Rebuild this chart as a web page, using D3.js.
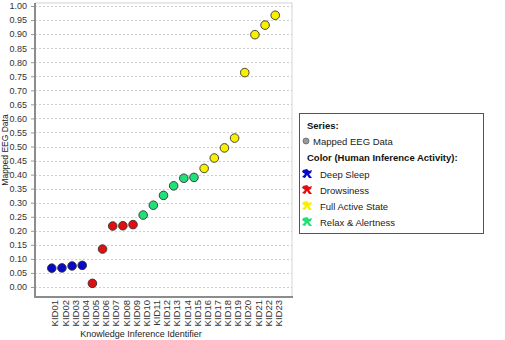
<!DOCTYPE html>
<html>
<head>
<meta charset="utf-8">
<script src="https://cdn.jsdelivr.net/npm/d3@7"></script>
<style>
  body { margin: 0; background: #fff; }
  svg { font-family: "Liberation Sans", Arial, sans-serif; }
</style>
</head>
<body>
<svg id="chart" width="505" height="340"></svg>
<script>
// data
const ids = ['KID01','KID02','KID03','KID04','KID05','KID06','KID07','KID08','KID09','KID10','KID11','KID12',
  'KID13','KID14','KID15','KID16','KID17','KID18','KID19','KID20','KID21','KID22','KID23'];
const eegValues = [0.067,0.068,0.075,0.077,0.013,0.135,0.217,0.218,0.222,0.256,0.291,0.326,
  0.360,0.387,0.390,0.422,0.459,0.495,0.530,0.763,0.898,0.932,0.967];
const activity = ['Deep Sleep','Deep Sleep','Deep Sleep','Deep Sleep','Drowsiness','Drowsiness','Drowsiness',
  'Drowsiness','Drowsiness','Relax & Alertness','Relax & Alertness','Relax & Alertness','Relax & Alertness',
  'Relax & Alertness','Relax & Alertness','Full Active State','Full Active State','Full Active State',
  'Full Active State','Full Active State','Full Active State','Full Active State','Full Active State'];
const activityNames = ['Deep Sleep','Drowsiness','Full Active State','Relax & Alertness'];
const activityColors = ['#0808c8','#e01010','#f8f000','#20e078'];
const yTicks = d3.range(0, 21).map(i => i * 0.05);

const svg = d3.select('#chart');
const plot = { left: 35, right: 292, top: 3, bottom: 297 };

const x = d3.scalePoint().domain(ids).range([plot.left, plot.right]).padding(1.65);
const y = d3.scaleLinear().domain([0, 1]).range([287, 6]);
const color = d3.scaleOrdinal().domain(activityNames).range(activityColors);

// plot frame
svg.append('rect')
  .attr('x', plot.left).attr('y', plot.top)
  .attr('width', plot.right - plot.left).attr('height', plot.bottom - plot.top)
  .attr('fill', '#fff').attr('stroke', '#d4d4d4').attr('stroke-width', 1);

// grid
svg.append('g').selectAll('line').data(yTicks).enter().append('line')
  .attr('x1', plot.left).attr('x2', plot.right)
  .attr('y1', d => Math.round(y(d)) + 0.5).attr('y2', d => Math.round(y(d)) + 0.5)
  .attr('stroke', '#c0c0c0').attr('stroke-width', 0.8).attr('stroke-dasharray', '2,2');

// y axis
const yAxis = svg.append('g').attr('transform', `translate(${plot.left - 1},0)`)
  .call(d3.axisLeft(y).tickValues(yTicks).tickFormat(d3.format('.2f')).tickSize(3).tickPadding(4));
yAxis.select('.domain').remove();
yAxis.selectAll('line').attr('stroke', '#999');
yAxis.selectAll('text').attr('font-size', 9).attr('fill', '#333')
  .attr('font-family', '"Liberation Sans", Arial, sans-serif');

// x axis
const xAxis = svg.append('g').attr('transform', `translate(0,${plot.bottom})`)
  .call(d3.axisBottom(x).tickSize(0));
xAxis.select('.domain').remove();
xAxis.selectAll('text')
  .attr('font-size', 9.5).attr('fill', '#333')
  .attr('font-family', '"Liberation Sans", Arial, sans-serif')
  .attr('transform', 'rotate(-90)')
  .attr('text-anchor', 'end')
  .attr('x', -3).attr('y', 0).attr('dy', '0.65em').attr('dx', 0);

// axis lines
svg.append('line').attr('x1', plot.left).attr('x2', plot.left)
  .attr('y1', plot.top).attr('y2', plot.bottom + 1)
  .attr('stroke', '#8c8c8c').attr('stroke-width', 2);
svg.append('line').attr('x1', plot.left).attr('x2', plot.right + 1)
  .attr('y1', plot.bottom).attr('y2', plot.bottom)
  .attr('stroke', '#8c8c8c').attr('stroke-width', 2);

// axis titles
svg.append('text')
  .attr('transform', `translate(8,${(plot.top + plot.bottom) / 2}) rotate(-90)`)
  .attr('text-anchor', 'middle').attr('font-size', 8.5).attr('fill', '#222')
  .text('Mapped EEG Data');
svg.append('text')
  .attr('x', 141).attr('y', 337)
  .attr('text-anchor', 'middle').attr('font-size', 9).attr('fill', '#222')
  .text('Knowledge Inference Identifier');

// points
svg.append('g').selectAll('circle').data(ids).enter().append('circle')
  .attr('cx', d => x(d))
  .attr('cy', (d, i) => y(eegValues[i]))
  .attr('r', 4.3)
  .attr('fill', (d, i) => color(activity[i]))
  .attr('stroke', '#333').attr('stroke-width', 0.9);

// legend
const lg = svg.append('g');
lg.append('rect').attr('x', 299.5).attr('y', 113.5).attr('width', 184).attr('height', 120)
  .attr('fill', '#fff').attr('stroke', '#555').attr('stroke-width', 1);
lg.append('text').attr('x', 307).attr('y', 129).attr('font-size', 9.5).attr('font-weight', 'bold')
  .attr('fill', '#111').text('Series:');
lg.append('circle').attr('cx', 306).attr('cy', 141).attr('r', 3)
  .attr('fill', '#999').attr('stroke', '#666').attr('stroke-width', 0.8);
lg.append('text').attr('x', 313).attr('y', 144.5).attr('font-size', 9.5).attr('fill', '#222')
  .text('Mapped EEG Data');
lg.append('text').attr('x', 307).attr('y', 161).attr('font-size', 9.5).attr('font-weight', 'bold')
  .attr('fill', '#111').text('Color (Human Inference Activity):');

const items = lg.selectAll('g.item').data(activityNames).enter().append('g')
  .attr('transform', (d, i) => `translate(0,${174 + i * 16})`);
// small running-figure style icon
items.append('path')
  .attr('d', 'M303,-4 L307,-5 L309,-3 L312,-4 L311,-1 L309,0 L312,4 L309,4 L307,1 L305,4 L302,3 L305,0 L302,-2 Z')
  .attr('fill', d => color(d));
items.append('text').attr('x', 320).attr('y', 3.5).attr('font-size', 9.5).attr('fill', '#222')
  .text(d => d);
</script>
</body>
</html>
